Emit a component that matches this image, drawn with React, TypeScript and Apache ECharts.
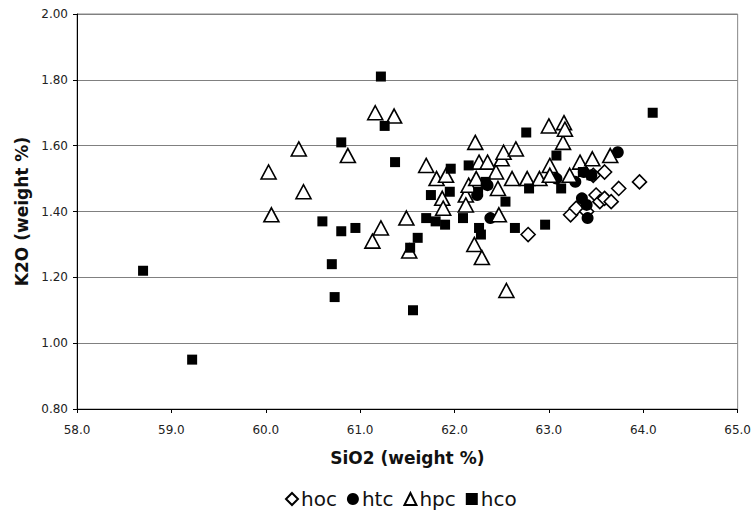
import React, { useEffect, useRef } from "react";
import * as echarts from "echarts";

// [SiO2, K2O] pairs
const hocData: number[][] = [
  [62.78, 1.33], [63.23, 1.39], [63.29, 1.41], [63.40, 1.40], [63.50, 1.45], [63.54, 1.43],
  [63.59, 1.44], [63.66, 1.43], [63.74, 1.47], [63.59, 1.52], [63.96, 1.49], [63.47, 1.51],
];
const htcData: number[][] = [
  [62.24, 1.45], [62.35, 1.48], [62.38, 1.38], [63.08, 1.50], [63.28, 1.49], [63.35, 1.44],
  [63.40, 1.42], [63.41, 1.38], [63.45, 1.51], [63.73, 1.58], [63.37, 1.52],
];
const hpcData: number[][] = [
  [60.03, 1.52], [60.06, 1.39], [60.35, 1.59], [60.40, 1.46], [60.87, 1.57], [61.13, 1.31],
  [61.16, 1.70], [61.22, 1.35], [61.36, 1.69], [61.49, 1.38], [61.52, 1.28], [61.70, 1.54],
  [61.81, 1.50], [61.91, 1.51], [61.87, 1.44], [61.88, 1.41], [62.12, 1.45], [62.12, 1.42],
  [62.15, 1.48], [62.21, 1.30], [62.22, 1.61], [62.23, 1.50], [62.26, 1.55], [62.29, 1.26],
  [62.35, 1.55], [62.44, 1.52], [62.46, 1.47], [62.47, 1.39], [62.50, 1.56], [62.52, 1.58],
  [62.55, 1.16], [62.61, 1.50], [62.65, 1.59], [62.77, 1.50], [62.90, 1.50], [63.01, 1.54],
  [63.00, 1.66], [63.01, 1.51], [63.15, 1.61], [63.16, 1.67], [63.17, 1.65], [63.22, 1.51],
  [63.33, 1.55], [63.46, 1.56], [63.65, 1.57],
];
const hcoData: number[][] = [
  [58.70, 1.22], [59.22, 0.95], [60.60, 1.37], [60.70, 1.24], [60.73, 1.14], [60.80, 1.61],
  [60.80, 1.34], [60.95, 1.35], [61.22, 1.81], [61.26, 1.66], [61.37, 1.55], [61.53, 1.29],
  [61.56, 1.10], [61.61, 1.32], [61.70, 1.38], [61.75, 1.45], [61.80, 1.37], [61.90, 1.36],
  [61.95, 1.46], [61.96, 1.53], [62.09, 1.38], [62.15, 1.54], [62.26, 1.35], [62.28, 1.33],
  [62.33, 1.49], [62.54, 1.43], [62.64, 1.35], [62.76, 1.64], [62.79, 1.47], [62.96, 1.36],
  [63.08, 1.57], [63.13, 1.47], [63.36, 1.52], [63.45, 1.51], [64.10, 1.70], [62.25, 1.46],
];

const seriesNames = ["hoc", "htc", "hpc", "hco"];
const xTitle = "SiO2 (weight %)";
const yTitle = "K2O (weight %)";

export default function App() {
  const ref = useRef<HTMLDivElement>(null);
  useEffect(() => {
    if (!ref.current) return;
    const chart = echarts.init(ref.current, null, { renderer: "svg" });
    const font = "DejaVu Sans";
    const hollow = { color: "#ffffff", borderColor: "#000000", borderWidth: 1.6, opacity: 1 };
    const solid = { color: "#000000", borderColor: "#000000", borderWidth: 0, opacity: 1 };
    chart.setOption({
      animation: false,
      backgroundColor: "#ffffff",
      grid: {
        left: 77, right: 12, top: 14, bottom: 104,
        show: true, borderColor: "#888888", borderWidth: 1,
      },
      legend: {
        top: 484,
        left: 280,
        itemGap: 10,
        itemWidth: 12,
        itemHeight: 12,
        textStyle: { fontFamily: font, fontSize: 20, color: "#111", padding: [0, 0, 0, -2] },
        data: seriesNames,
      },
      xAxis: {
        type: "value",
        min: 58, max: 65, interval: 1,
        name: xTitle,
        nameLocation: "middle",
        nameGap: 40,
        nameTextStyle: { fontFamily: font, fontSize: 17, fontWeight: "bold", color: "#111" },
        axisLine: { show: true, lineStyle: { color: "#000", width: 1 } },
        axisTick: { show: true, length: 4, lineStyle: { color: "#000" } },
        axisLabel: {
          margin: 15, fontFamily: font, fontSize: 12, color: "#222",
          formatter: (v: number) => v.toFixed(1),
        },
        splitLine: { show: false },
      },
      yAxis: {
        type: "value",
        min: 0.8, max: 2.0, interval: 0.2,
        name: yTitle,
        nameLocation: "middle",
        nameGap: 46,
        nameRotate: 90,
        nameTextStyle: { fontFamily: font, fontSize: 17, fontWeight: "bold", color: "#111" },
        axisLine: { show: true, lineStyle: { color: "#000", width: 1 } },
        axisTick: { show: true, length: 4, lineStyle: { color: "#000" } },
        axisLabel: {
          margin: 9, fontFamily: font, fontSize: 12, color: "#222",
          formatter: (v: number) => v.toFixed(2),
        },
        splitLine: { show: true, lineStyle: { color: "#808080", width: 1.2 } },
      },
      series: [
        { name: "hoc", type: "scatter", symbol: "diamond", symbolSize: 14, data: hocData, itemStyle: hollow },
        { name: "htc", type: "scatter", symbol: "circle", symbolSize: 12, data: htcData, itemStyle: solid },
        { name: "hpc", type: "scatter", symbol: "triangle", symbolSize: [15, 14], data: hpcData, itemStyle: hollow },
        { name: "hco", type: "scatter", symbol: "rect", symbolSize: 10, data: hcoData, itemStyle: solid },
      ],
    });
    return () => chart.dispose();
  }, []);
  return (
    <div
      ref={ref}
      style={{ position: "fixed", left: 0, top: 0, width: 754, height: 513, background: "#fff" }}
    />
  );
}
